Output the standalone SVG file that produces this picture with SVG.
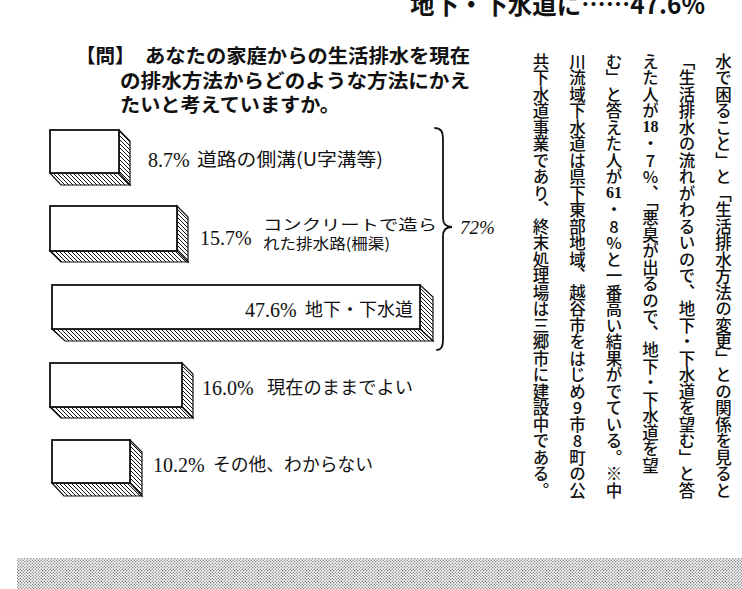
<svg xmlns="http://www.w3.org/2000/svg" width="742" height="589" viewBox="0 0 742 589">
<style>
.bg{fill:#ffffff}
.front{fill:#ffffff;stroke:#111;stroke-width:1.8;stroke-linejoin:miter}
.face{fill:url(#hatch);stroke:#111;stroke-width:1.2;stroke-linejoin:miter}
.num{font-family:"Liberation Serif","Noto Sans CJK JP",serif;font-size:20px;fill:#111}
.jp{font-family:"Noto Sans CJK JP","Liberation Serif",sans-serif;font-size:18px;fill:#111}
.jps{font-family:"Noto Sans CJK JP","Liberation Serif",sans-serif;font-size:15px;fill:#111}
.q{font-family:"Noto Sans CJK JP",sans-serif;font-size:19.5px;font-weight:700;fill:#111}
.title{font-family:"Noto Sans CJK JP","Liberation Sans",sans-serif;font-size:25px;font-weight:700;fill:#111}
.v{font-family:"Noto Sans CJK JP",sans-serif;font-size:16.5px;font-weight:500;fill:#111;writing-mode:vertical-rl;text-orientation:upright}
.vn{font-family:"Liberation Serif","Noto Sans CJK JP",serif;font-size:16px;font-weight:700;fill:#111}
.brace{fill:none;stroke:#111;stroke-width:1.8;stroke-linecap:round}
</style>
<defs>
<pattern id="hatch" patternUnits="userSpaceOnUse" width="4" height="4">
<rect width="4" height="4" fill="#fff"/>
<path d="M-1,-1 L5,5 M-1,3 L1,5 M3,-1 L5,1" stroke="#111" stroke-width="1"/>
</pattern>
<pattern id="dots" patternUnits="userSpaceOnUse" width="3" height="3">
<rect width="3" height="3" fill="#fff"/>
<circle cx="0.75" cy="0.75" r="0.75" fill="#777"/>
<circle cx="2.25" cy="2.25" r="0.75" fill="#777"/>
</pattern>
</defs>
<rect class="bg" x="0" y="0" width="742" height="589"/>

<g id="title">
<text class="title" x="410" y="14" textLength="295" lengthAdjust="spacingAndGlyphs">地下・下水道に……47.6%</text>
</g>

<g id="question">
<text class="q" x="76" y="63">【問】</text>
<text class="q" x="145" y="63" textLength="325" lengthAdjust="spacingAndGlyphs">あなたの家庭からの生活排水を現在</text>
<text class="q" x="120" y="88" textLength="350" lengthAdjust="spacingAndGlyphs">の排水方法からどのような方法にかえ</text>
<text class="q" x="120" y="112" textLength="220" lengthAdjust="spacingAndGlyphs">たいと考えていますか。</text>
</g>

<g id="bar1">
<polygon class="face" points="119,130 130,141 130,185 119,173"/>
<polygon class="face" points="50,173 119,173 130,185 61,185"/>
<rect class="front" x="50" y="130" width="69" height="43"/>
<text class="num" x="148" y="167">8.7%</text>
<text class="jp" x="197" y="166" textLength="186" lengthAdjust="spacingAndGlyphs">道路の側溝(U字溝等)</text>
</g>

<g id="bar2">
<polygon class="face" points="177,206 188,217 188,262 177,251"/>
<polygon class="face" points="50,251 177,251 188,262 61,262"/>
<rect class="front" x="50" y="206" width="127" height="45"/>
<text class="num" x="200" y="245">15.7%</text>
<text class="jps" x="263" y="230" textLength="174" lengthAdjust="spacingAndGlyphs">コンクリートで造ら</text>
<text class="jps" x="263" y="249" textLength="127" lengthAdjust="spacingAndGlyphs">れた排水路(柵渠)</text>
</g>

<g id="bar3">
<polygon class="face" points="420,285 433,297 433,341 420,329"/>
<polygon class="face" points="52,329 420,329 433,341 65,341"/>
<rect class="front" x="52" y="285" width="368" height="44"/>
<text class="num" x="245" y="317">47.6%</text>
<text class="jp" x="305" y="316" textLength="108" lengthAdjust="spacingAndGlyphs">地下・下水道</text>
</g>

<g id="bar4">
<polygon class="face" points="182,363 193,374 193,418 182,407"/>
<polygon class="face" points="50,407 182,407 193,418 61,418"/>
<rect class="front" x="50" y="363" width="132" height="44"/>
<text class="num" x="202" y="395">16.0%</text>
<text class="jp" x="267" y="394" textLength="146" lengthAdjust="spacingAndGlyphs">現在のままでよい</text>
</g>

<g id="bar5">
<polygon class="face" points="130,440 142,452 142,496 130,483"/>
<polygon class="face" points="52,483 130,483 142,496 64,496"/>
<rect class="front" x="52" y="440" width="78" height="43"/>
<text class="num" x="153" y="472">10.2%</text>
<text class="jp" x="213" y="471" textLength="160" lengthAdjust="spacingAndGlyphs">その他、わからない</text>
</g>

<g id="connectors">
<path class="brace" d="M435,128 Q443,128 443,138 L443,218 Q443,227 452,227 Q443,227 443,236 L443,340 Q443,350 437,350"/>
</g>

<g id="total">
<text x="460" y="234" style="font-family:'Liberation Serif',serif;font-size:19px;font-style:italic;fill:#111">72%</text>
</g>

<g id="article">
<text class="v" x="723.5" y="53">水で困ること」と「生活排水方法の変更」との関係を見ると</text>
<text class="v" x="687" y="53">「生活排水の流れがわるいので、地下・下水道を望む」と答</text>
<text class="v" x="650.5" y="53">えた人が</text>
<text class="vn" x="650.5" y="132" text-anchor="middle">18</text>
<text class="v" x="650.5" y="135.5">・7%、「悪臭が出るので、地下・下水道を望</text>
<text class="v" x="614" y="53">む」と答えた人が</text>
<text class="vn" x="614" y="198" text-anchor="middle">61</text>
<text class="v" x="614" y="201.5">・8%と一番高い結果がでている。※中</text>
<text class="v" x="577.5" y="53">川流域下水道は県下東部地域、越谷市をはじめ9市8町の公</text>
<text class="v" x="541" y="53">共下水道事業であり、終末処理場は三郷市に建設中である。</text>
</g>

<rect x="17" y="558" width="725" height="31" fill="url(#dots)"/>
</svg>
